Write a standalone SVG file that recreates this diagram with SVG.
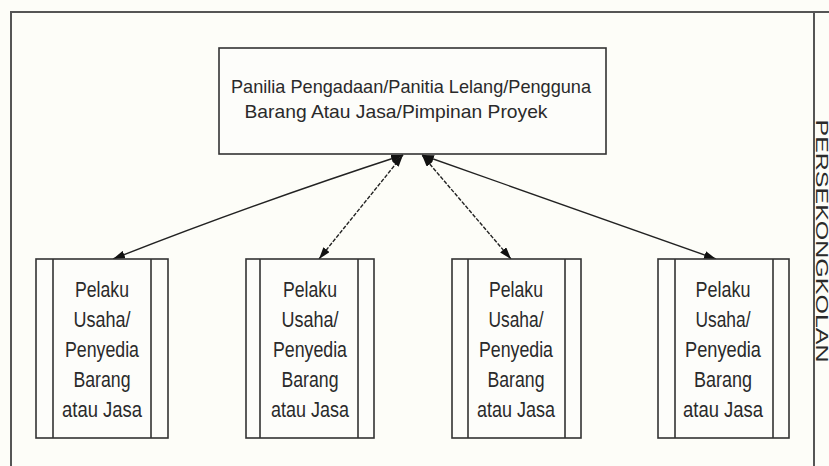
<svg xmlns="http://www.w3.org/2000/svg" width="829" height="466" viewBox="0 0 829 466">
<defs>
<marker id="arr" viewBox="0 0 12 8" refX="12" refY="4" markerWidth="12" markerHeight="8" markerUnits="userSpaceOnUse" orient="auto-start-reverse">
<path d="M0,0 L12,4 L0,8 Z" fill="#111"/>
</marker>
</defs>
<style>
.frame{fill:none;stroke:#555;stroke-width:2}
.box{fill:#fdfdfa;stroke:#333;stroke-width:1.6}
.bar{fill:none;stroke:#333;stroke-width:1.6}
.t{font-family:"Liberation Sans",Arial,sans-serif;fill:#2a2a2a;text-anchor:middle}
.big{font-size:19px}
.small{font-size:22px}
.conn{fill:none;stroke:#222;stroke-width:1.4;marker-start:url(#arr);marker-end:url(#arr)}
.dash{stroke-dasharray:4 1.5}
</style>
<rect x="0" y="0" width="829" height="466" fill="#fdfdf8"/>
<g id="frame">
<path class="frame" d="M11,466 L11,12 L829,12"/>
<path class="frame" d="M814,12 L814,466"/>
<text class="t" font-size="16" transform="translate(816,241) rotate(90)" textLength="243" lengthAdjust="spacingAndGlyphs">PERSEKONGKOLAN</text>
</g>
<g id="connectors">
<path class="conn" d="M113,259 Q250,205 403,155"/>
<path class="conn dash" d="M319,259 L403,155"/>
<path class="conn dash" d="M511,259 L422,155"/>
<path class="conn" d="M716,259 L422,155"/>
</g>
<g id="top">
<rect class="box" x="219" y="48" width="387" height="106"/>
<text class="t big" x="411" y="93" textLength="360" lengthAdjust="spacingAndGlyphs">Panilia Pengadaan/Panitia Lelang/Pengguna</text>
<text class="t big" x="396" y="118" textLength="303" lengthAdjust="spacingAndGlyphs">Barang Atau Jasa/Pimpinan Proyek</text>
</g>
<g id="n1">
<rect class="box" x="36" y="259" width="132" height="179"/>
<path class="bar" d="M53,259 V438 M151,259 V438"/>
<text class="t small" x="102" y="297" textLength="54" lengthAdjust="spacingAndGlyphs">Pelaku</text>
<text class="t small" x="102" y="327" textLength="57" lengthAdjust="spacingAndGlyphs">Usaha/</text>
<text class="t small" x="102" y="357" textLength="74" lengthAdjust="spacingAndGlyphs">Penyedia</text>
<text class="t small" x="102" y="387" textLength="57" lengthAdjust="spacingAndGlyphs">Barang</text>
<text class="t small" x="102" y="417" textLength="80" lengthAdjust="spacingAndGlyphs">atau Jasa</text>
</g>
<g id="n2">
<rect class="box" x="246" y="259" width="128" height="179"/>
<path class="bar" d="M260,259 V438 M358,259 V438"/>
<text class="t small" x="310" y="297" textLength="54" lengthAdjust="spacingAndGlyphs">Pelaku</text>
<text class="t small" x="310" y="327" textLength="57" lengthAdjust="spacingAndGlyphs">Usaha/</text>
<text class="t small" x="310" y="357" textLength="74" lengthAdjust="spacingAndGlyphs">Penyedia</text>
<text class="t small" x="310" y="387" textLength="57" lengthAdjust="spacingAndGlyphs">Barang</text>
<text class="t small" x="310" y="417" textLength="78" lengthAdjust="spacingAndGlyphs">atau Jasa</text>
</g>
<g id="n3">
<rect class="box" x="452" y="259" width="129" height="179"/>
<path class="bar" d="M468,259 V438 M565,259 V438"/>
<text class="t small" x="516" y="297" textLength="54" lengthAdjust="spacingAndGlyphs">Pelaku</text>
<text class="t small" x="516" y="327" textLength="55" lengthAdjust="spacingAndGlyphs">Usaha/</text>
<text class="t small" x="516" y="357" textLength="74" lengthAdjust="spacingAndGlyphs">Penyedia</text>
<text class="t small" x="516" y="387" textLength="57" lengthAdjust="spacingAndGlyphs">Barang</text>
<text class="t small" x="516" y="417" textLength="78" lengthAdjust="spacingAndGlyphs">atau Jasa</text>
</g>
<g id="n4">
<rect class="box" x="658" y="259" width="131" height="179"/>
<path class="bar" d="M675,259 V438 M773,259 V438"/>
<text class="t small" x="723" y="297" textLength="55" lengthAdjust="spacingAndGlyphs">Pelaku</text>
<text class="t small" x="723" y="327" textLength="55" lengthAdjust="spacingAndGlyphs">Usaha/</text>
<text class="t small" x="723" y="357" textLength="76" lengthAdjust="spacingAndGlyphs">Penyedia</text>
<text class="t small" x="723" y="387" textLength="58" lengthAdjust="spacingAndGlyphs">Barang</text>
<text class="t small" x="723" y="417" textLength="80" lengthAdjust="spacingAndGlyphs">atau Jasa</text>
</g>
</svg>
